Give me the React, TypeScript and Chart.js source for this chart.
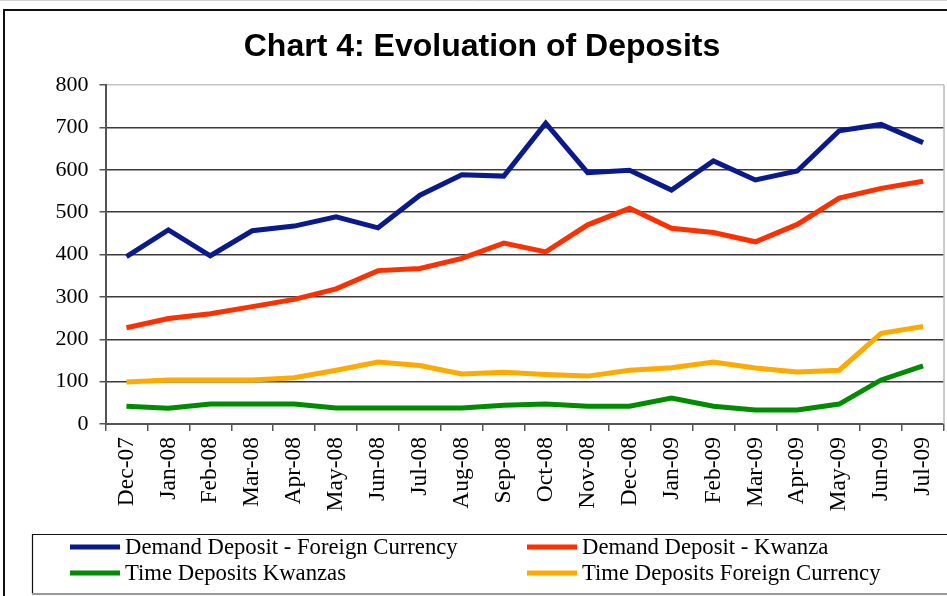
import React, { useEffect, useRef } from "react";
import { Chart, registerables } from "chart.js";

Chart.register(...registerables);

const categories = [
  "Dec-07", "Jan-08", "Feb-08", "Mar-08", "Apr-08", "May-08", "Jun-08", "Jul-08",
  "Aug-08", "Sep-08", "Oct-08", "Nov-08", "Dec-08", "Jan-09", "Feb-09", "Mar-09",
  "Apr-09", "May-09", "Jun-09", "Jul-09",
];

const demandForeign = [395, 458, 397, 456, 467, 489, 463, 540, 588, 585, 710, 593, 599, 552, 621, 576, 597, 692, 707, 664];
const demandKwanza = [227, 249, 260, 277, 294, 319, 362, 367, 391, 427, 406, 470, 509, 462, 452, 430, 471, 533, 556, 573];
const timeKwanzas = [42, 37, 47, 47, 47, 38, 38, 38, 38, 44, 47, 42, 42, 61, 42, 33, 33, 47, 104, 137];
const timeForeign = [99, 104, 104, 104, 109, 127, 146, 138, 118, 122, 117, 113, 127, 133, 146, 132, 123, 127, 214, 230];

const yTicks = [0, 100, 200, 300, 400, 500, 600, 700, 800];

const titleText = "Chart 4: Evoluation of Deposits";
const seriesNames = [
  "Demand Deposit - Foreign Currency",
  "Demand Deposit - Kwanza",
  "Time Deposits Kwanzas",
  "Time Deposits Foreign Currency",
];
const seriesColors = ["#0a1a8e", "#ff3000", "#008c00", "#ffaa00"];

const SERIF = '"Liberation Serif", "Times New Roman", serif';
const SANS = '"Liberation Sans", Arial, sans-serif';

const decorPlugin = {
  id: "decor",
  afterDraw(chart: any) {
    const ctx = chart.ctx;
    const ca = chart.chartArea;
    const W = chart.width;
    ctx.save();
    // outer frame
    ctx.strokeStyle = "#d0d0d0";
    ctx.lineWidth = 1;
    ctx.beginPath();
    ctx.moveTo(0, 0.5);
    ctx.lineTo(W, 0.5);
    ctx.stroke();
    ctx.strokeStyle = "#111";
    ctx.lineWidth = 2;
    ctx.beginPath();
    ctx.moveTo(W + 5, 10);
    ctx.lineTo(4, 10);
    ctx.lineTo(4, 600);
    ctx.stroke();
    // right plot border
    ctx.strokeStyle = "#bdbdbd";
    ctx.lineWidth = 1.5;
    ctx.beginPath();
    ctx.moveTo(ca.right, ca.top);
    ctx.lineTo(ca.right, ca.bottom);
    ctx.stroke();
    // title
    ctx.fillStyle = "#000";
    ctx.font = "bold 32px " + SANS;
    ctx.textAlign = "center";
    ctx.textBaseline = "alphabetic";
    ctx.fillText(titleText, 482, 56);
    // legend box
    ctx.strokeStyle = "#111";
    ctx.lineWidth = 1.2;
    ctx.beginPath();
    ctx.moveTo(W + 5, 534.5);
    ctx.lineTo(32.5, 534.5);
    ctx.lineTo(32.5, 593.5);
    ctx.stroke();
    ctx.strokeStyle = "#9a9a9a";
    ctx.lineWidth = 2;
    ctx.beginPath();
    ctx.moveTo(32, 594);
    ctx.lineTo(W + 5, 594);
    ctx.stroke();
    // legend entries
    const ds = chart.data.datasets;
    const pos = [
      [70, 547],
      [527, 547],
      [70, 573],
      [527, 573],
    ];
    ctx.font = "22.7px " + SERIF;
    ctx.textAlign = "left";
    ctx.textBaseline = "middle";
    for (let i = 0; i < ds.length; i++) {
      const [x, y] = pos[i];
      ctx.strokeStyle = ds[i].borderColor;
      ctx.lineWidth = 5;
      ctx.beginPath();
      ctx.moveTo(x, y);
      ctx.lineTo(x + 50, y);
      ctx.stroke();
      ctx.fillStyle = "#000";
      ctx.fillText(ds[i].label, x + 55, y + 1);
    }
    ctx.restore();
  },
};

export default function App() {
  const ref = useRef<HTMLCanvasElement | null>(null);
  useEffect(() => {
    document.body.style.margin = "0";
    const canvas = ref.current;
    if (!canvas) return;
    const values = [demandForeign, demandKwanza, timeKwanzas, timeForeign];
    const chart = new Chart(canvas, {
      type: "line",
      data: {
        labels: categories,
        datasets: values.map((v, i) => ({
          label: seriesNames[i],
          data: v,
          borderColor: seriesColors[i],
          backgroundColor: seriesColors[i],
          borderWidth: 5,
          pointRadius: 0,
          tension: 0,
          fill: false,
        })),
      },
      options: {
        animation: false,
        responsive: false,
        maintainAspectRatio: false,
        layout: { padding: { top: 85, right: 3, left: 0, bottom: 0 } },
        plugins: {
          legend: { display: false },
          title: { display: false },
          tooltip: { enabled: false },
        },
        scales: {
          x: {
            offset: true,
            grid: {
              offset: true,
              drawOnChartArea: false,
              drawTicks: true,
              tickLength: 7,
              color: "#555",
              lineWidth: 1.5,
            },
            border: { color: "#555", width: 2 },
            ticks: {
              maxRotation: 90,
              minRotation: 90,
              autoSkip: false,
              color: "#000",
              padding: 6,
              font: { family: SERIF, size: 23.5 },
            },
            afterFit(scale: any) {
              scale.height = 172;
              scale.paddingLeft = 0;
              scale.paddingRight = 0;
            },
          },
          y: {
            min: 0,
            max: 800,
            afterBuildTicks(scale: any) {
              scale.ticks = yTicks.map((v) => ({ value: v }));
            },
            grid: {
              color: (c: any) => (c.tick && c.tick.value === 800 ? "#c4c4c4" : "#3a3a3a"),
              lineWidth: 1.5,
              tickLength: 6,
              tickColor: "#555",
            },
            border: { color: "#555", width: 2 },
            ticks: {
              color: "#000",
              padding: 11,
              font: { family: SERIF, size: 22 },
            },
            afterFit(scale: any) {
              scale.width = 105.5;
              scale.paddingTop = 0;
              scale.paddingBottom = 0;
            },
          },
        },
      },
      plugins: [decorPlugin],
    });
    return () => chart.destroy();
  }, []);
  return <canvas ref={ref} width={947} height={596} style={{ display: "block" }} />;
}
